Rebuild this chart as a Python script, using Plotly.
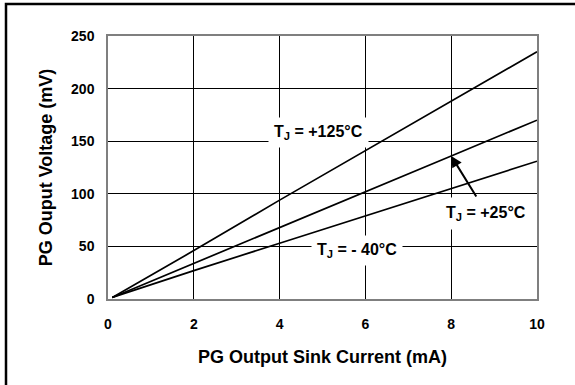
import plotly.graph_objects as go

current_ma = [0.1, 2, 4, 6, 8, 10]
v_125 = [1.5, 46, 94, 141, 188, 235]
v_25 = [1.5, 34, 68, 102, 136, 170]
v_m40 = [1.5, 27, 53, 79, 105, 131]

x_ticks = [0, 2, 4, 6, 8, 10]
y_ticks = [0, 50, 100, 150, 200, 250]

FONT = "Liberation Sans, Arial, sans-serif"

# plot-area pixel geometry
L, R, T, B = 108, 537, 36, 299
W, H = 575, 385

def px(xp):
    return (xp - L) / (R - L)

def py(yp):
    return (B - yp) / (B - T)

fig = go.Figure()
for ys in (v_125, v_25, v_m40):
    fig.add_trace(go.Scatter(x=current_ma, y=ys, mode="lines",
                             line=dict(color="black", width=1.7),
                             showlegend=False, hoverinfo="skip"))

ann_font = dict(family=FONT, size=16, color="black")
# arrow pointing to the +25°C curve at 8 mA
fig.add_annotation(x=8, y=v_25[4], ax=26, ay=42,
                   text="", showarrow=True, arrowhead=2, arrowsize=1.1,
                   arrowwidth=2, arrowcolor="black", standoff=0)
fig.add_annotation(x=4.9, y=158, text="<b>T<sub>J</sub> = +125°C</b>",
                   showarrow=False, font=ann_font, bgcolor="white", borderpad=5)
fig.add_annotation(x=8.8, y=81, text="<b>T<sub>J</sub> = +25°C</b>",
                   showarrow=False, font=ann_font, bgcolor="white", borderpad=6)
fig.add_annotation(x=5.8, y=46.5, text="<b>T<sub>J</sub> = - 40°C</b>",
                   showarrow=False, font=ann_font, bgcolor="white", borderpad=5)

# outer frame (top and left edges visible)
fig.add_shape(type="rect", xref="paper", yref="paper",
              x0=px(6), x1=px(590), y0=py(400), y1=py(4),
              line=dict(color="black", width=2.5), layer="above")

axis_common = dict(showgrid=True, gridcolor="black", gridwidth=1,
                   showline=True, linecolor="#7f7f7f", linewidth=1.5, mirror=True,
                   zeroline=False, ticks="",
                   tickfont=dict(family=FONT, size=14, color="black"))

fig.update_xaxes(range=[0, 10], tickvals=x_ticks,
                 ticktext=[f"<b>{v}</b>" for v in x_ticks],
                 ticklabelstandoff=11,
                 title=dict(text="<b>PG Output Sink Current (mA)</b>",
                            font=dict(family=FONT, size=18, color="black"),
                            standoff=20),
                 **axis_common)
fig.update_yaxes(range=[0, 250], tickvals=y_ticks,
                 ticktext=[f"<b>{v}</b>" for v in y_ticks],
                 ticklabelstandoff=9,
                 title=dict(text="<b>PG Ouput Voltage (mV)</b>",
                            font=dict(family=FONT, size=18, color="black"),
                            standoff=14),
                 **axis_common)

fig.update_layout(width=W, height=H,
                  margin=dict(l=L, r=W - R, t=T, b=H - B),
                  paper_bgcolor="white", plot_bgcolor="white")

fig.write_html("out.html")
